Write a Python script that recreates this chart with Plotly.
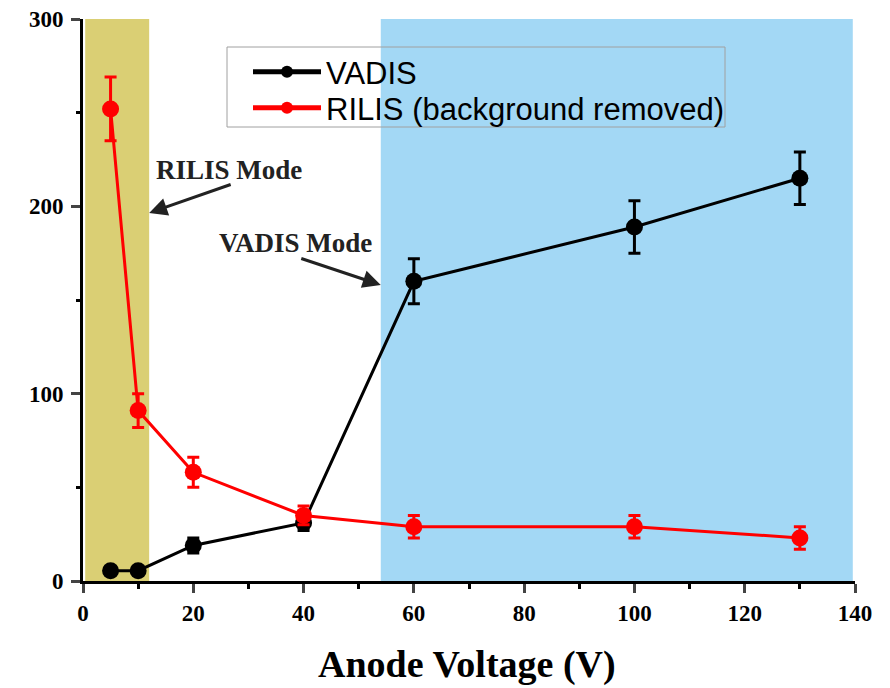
import plotly.graph_objects as go

voltage = [5, 10, 20, 40, 60, 100, 130]
vadis = [5.5, 5.5, 19, 31, 160, 189, 215]
vadis_err = [2, 2, 4, 4, 12, 14, 14]
rilis = [252, 91, 58, 35, 29, 29, 23]
rilis_err = [17, 9, 8, 5, 6, 6, 6]

x_ticks = [0, 20, 40, 60, 80, 100, 120, 140]
y_ticks = [0, 100, 200, 300]

L, T, W, H = 83, 19, 772, 562


def py(p):
    """pixel row -> paper y"""
    return (H + T - p) / H


def px(p):
    """pixel column -> paper x"""
    return (p - L) / W


fig = go.Figure()

fig.add_trace(go.Scatter(
    x=voltage, y=vadis, name="VADIS", mode="lines+markers",
    line=dict(color="black", width=3),
    marker=dict(color="black", size=17),
    error_y=dict(type="data", array=vadis_err, color="black", thickness=3, width=6),
    legend="legend",
))
fig.add_trace(go.Scatter(
    x=voltage, y=rilis, name="RILIS (background removed)", mode="lines+markers",
    line=dict(color="#ff0000", width=3),
    marker=dict(color="#ff0000", size=17),
    error_y=dict(type="data", array=rilis_err, color="#ff0000", thickness=3, width=6),
    legend="legend2",
))

fig.add_shape(type="rect", xref="x", yref="y", x0=0.4, x1=12, y0=0, y1=300,
              fillcolor="#dacf74", line_width=0, layer="below")
fig.add_shape(type="rect", xref="x", yref="y", x0=54, x1=139.6, y0=0, y1=300,
              fillcolor="#a3d8f5", line_width=0, layer="below")
# legend frame
fig.add_shape(type="rect", xref="paper", yref="paper", x0=px(227), x1=px(725),
              y0=py(127), y1=py(47), line=dict(color="#a0a0a0", width=1),
              fillcolor="rgba(0,0,0,0)", layer="above")

ann_font = dict(family="Liberation Serif", size=27, color="#222222", weight="bold")
fig.add_annotation(xref="paper", yref="paper", x=px(229), y=py(170),
                   text="RILIS Mode", showarrow=False, font=ann_font,
                   xanchor="center", yanchor="middle")
fig.add_annotation(xref="paper", yref="paper", x=px(295), y=py(243),
                   text="VADIS Mode", showarrow=False, font=ann_font,
                   xanchor="center", yanchor="middle")
# arrows
fig.add_annotation(x=12, y=(581 - 213) / 1.8733, xref="x", yref="y",
                   ax=232 - 149, ay=184 - 213, axref="pixel", ayref="pixel",
                   showarrow=True, arrowhead=2, arrowsize=1.2, arrowwidth=3,
                   arrowcolor="#222222", text="")
fig.add_annotation(x=54, y=(581 - 285) / 1.8733, xref="x", yref="y",
                   ax=300 - 381, ay=258 - 285, axref="pixel", ayref="pixel",
                   showarrow=True, arrowhead=2, arrowsize=1.2, arrowwidth=3,
                   arrowcolor="#222222", text="")
# axis title
fig.add_annotation(xref="paper", yref="paper", x=px(467), y=py(664),
                   text="Anode Voltage (V)", showarrow=False,
                   font=dict(family="Liberation Serif", size=38, color="black", weight="bold"),
                   xanchor="center", yanchor="middle")

tick_font = dict(family="Liberation Serif", size=23, color="black", weight="bold")
fig.update_xaxes(range=[0, 140], tickvals=x_ticks, ticks="outside", ticklen=9, tickwidth=3,
                 showline=True, linecolor="black", linewidth=3, showgrid=False, zeroline=False,
                 tickfont=tick_font, automargin=False,
                 minor=dict(dtick=10, ticks="outside", ticklen=5, tickwidth=3, tickcolor="black"))
fig.update_yaxes(range=[0, 300], tickvals=y_ticks, ticks="outside", ticklen=9, tickwidth=3,
                 showline=True, linecolor="black", linewidth=3, showgrid=False, zeroline=False,
                 tickfont=tick_font, automargin=False, ticklabelstandoff=3,
                 minor=dict(dtick=50, ticks="outside", ticklen=4, tickwidth=3, tickcolor="black"))

leg_common = dict(xanchor="left", yanchor="middle", bgcolor="rgba(0,0,0,0)", borderwidth=0,
                  font=dict(family="Liberation Sans", size=31, color="black"),
                  itemwidth=68, itemsizing="constant")
fig.update_layout(
    width=890, height=688,
    margin=dict(l=L, r=890 - L - W, t=T, b=688 - T - H, autoexpand=False),
    plot_bgcolor="white", paper_bgcolor="white",
    legend=dict(x=px(248), y=py(72), **leg_common),
    legend2=dict(x=px(248), y=py(108), **leg_common),
    showlegend=True,
)

fig.write_html("out.html", post_script="document.body.style.margin='0';",
               config={"displayModeBar": False})
